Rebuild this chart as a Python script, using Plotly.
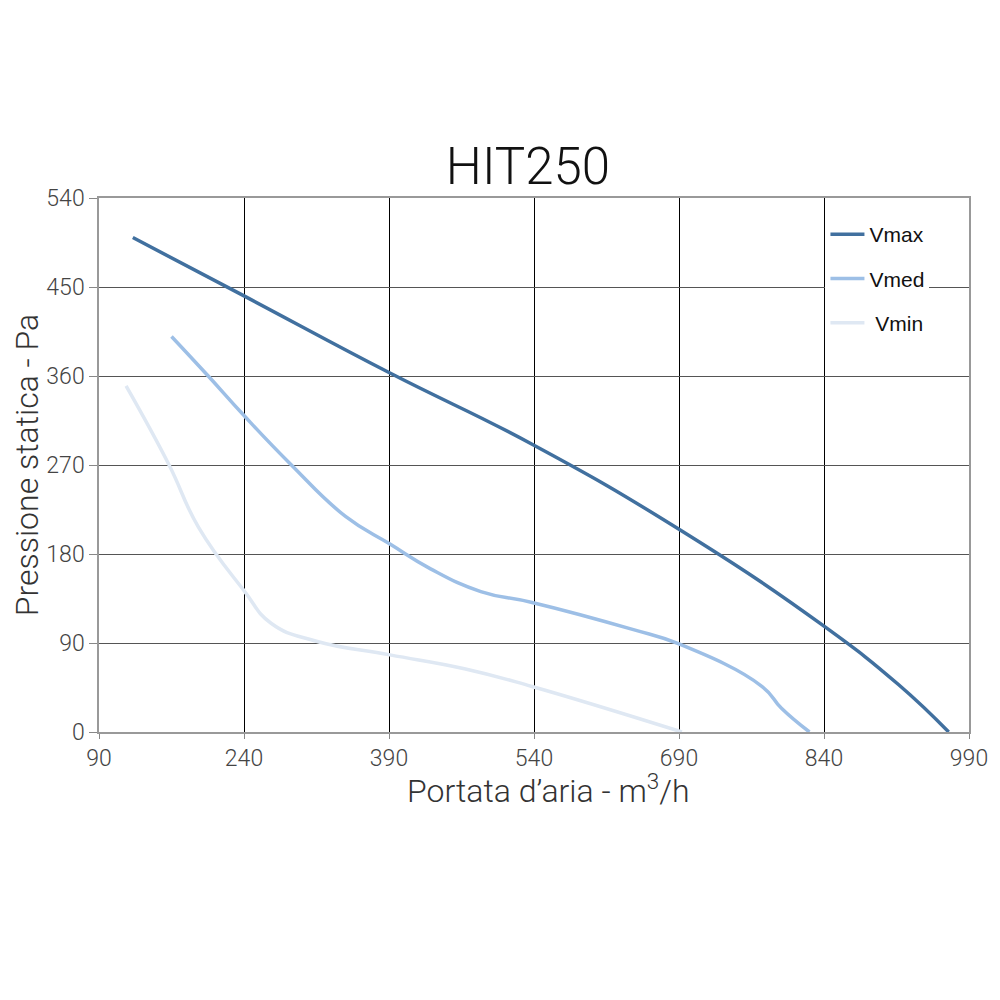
import plotly.graph_objects as go

# portata (m3/h) e pressione (Pa)
vmax_x = [125, 240, 391, 538, 690, 840, 917, 969]
vmax_y = [500, 441, 363, 291, 205, 107, 48, 0]

vmed_x = [165, 203, 240, 288, 345, 391, 433, 485, 538, 641, 690, 776, 796, 825]
vmed_y = [400, 360, 320, 271, 218, 190, 165, 142, 131, 104, 89, 46, 24, 0]

vmin_x = [118, 162, 193, 240, 268, 314, 391, 468, 538, 693]
vmin_y = [350, 271, 207, 143, 110, 92, 78, 64, 46, 0]

x_ticks = [90, 240, 390, 540, 690, 840, 990]
y_ticks = [0, 90, 180, 270, 360, 450, 540]

font_family = "Roboto, Liberation Sans, sans-serif"

fig = go.Figure()
fig.add_trace(go.Scatter(x=vmax_x, y=vmax_y, mode="lines", name="Vmax",
                         legendgroup="a",
                         line=dict(color="#41709f", width=3.5, shape="spline", smoothing=1.3)))
fig.add_trace(go.Scatter(x=vmed_x, y=vmed_y, mode="lines", name="Vmed",
                         legendgroup="b",
                         line=dict(color="#9dbfe6", width=3.5, shape="spline", smoothing=1.3)))
fig.add_trace(go.Scatter(x=vmin_x, y=vmin_y, mode="lines", name=" Vmin",
                         legendgroup="c",
                         line=dict(color="#dfe8f3", width=3.5, shape="spline", smoothing=1.3)))

fig.update_layout(
    width=1000, height=1000,
    paper_bgcolor="white", plot_bgcolor="white",
    margin=dict(l=88, r=39, t=190, b=276),
    font=dict(family=font_family, color="#333333", weight=300),
    title=dict(text="HIT250", x=0.52, xanchor="center", y=0.842, yanchor="middle",
               font=dict(size=51, color="#111111", family=font_family, weight=300)),
    legend=dict(x=0.835, y=0.97, xanchor="left", yanchor="top",
                bgcolor="white", font=dict(size=21, color="#111111", family="Liberation Sans"),
                tracegroupgap=14, itemwidth=34),
    showlegend=True,
)
fig.add_annotation(text="Portata d’aria - m<sup>3</sup>/h", xref="paper", yref="paper",
                   x=0.517, y=-0.107, xanchor="center", yanchor="middle", showarrow=False,
                   font=dict(size=32, color="#333333", family=font_family, weight=300))
fig.update_xaxes(range=[90, 990], tickvals=x_ticks, ticks="outside", ticklen=5,
                 tickcolor="#888888", showgrid=True, gridcolor="#000000", gridwidth=1,
                 showline=True, linecolor="#999999", linewidth=1.5, mirror=True,
                 zeroline=False, tickfont=dict(size=23, color="#444444"))
fig.update_yaxes(range=[0, 540], tickvals=y_ticks, ticks="outside", ticklen=8,
                 tickcolor="#888888", showgrid=True, gridcolor="#555555", gridwidth=1,
                 showline=True, linecolor="#999999", linewidth=1.5, mirror=True,
                 zeroline=False, tickfont=dict(size=23, color="#444444"),
                 title=dict(text="Pressione statica - Pa", standoff=4,
                            font=dict(size=32, color="#333333")))

fig.write_html("out.html")
